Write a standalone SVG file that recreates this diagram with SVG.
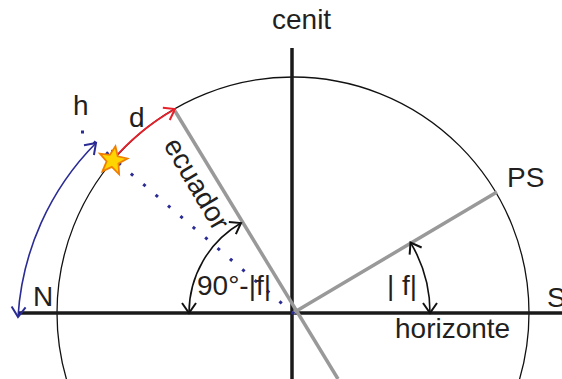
<svg xmlns="http://www.w3.org/2000/svg" width="562" height="379" viewBox="0 0 562 379">
<style>
text{font-family:"Liberation Sans",Arial,sans-serif;fill:#231f20;font-size:28px}
.axis{stroke:#1a1a1a;stroke-width:3.5;fill:none}
.gray{stroke:#999;stroke-width:3.5;fill:none}
.circ{stroke:#111;stroke-width:1.3;fill:none}
.blk{stroke:#111;stroke-width:1.6;fill:none}
.red{stroke:#e8202a;stroke-width:2;fill:none}
.blue{stroke:#2b2b96;stroke-width:1.6;fill:none}
.dots{stroke:#2b2b96;stroke-width:3;stroke-linecap:square;fill:none}
</style>
<defs>
<marker id="ak" markerUnits="userSpaceOnUse" markerWidth="30" markerHeight="30" refX="0" refY="0" viewBox="-15 -15 30 30" orient="auto-start-reverse" overflow="visible"><path d="M-10,-7 L0,0 L-10,7" fill="none" stroke="#111" stroke-width="2"/></marker>
<marker id="ar" markerUnits="userSpaceOnUse" markerWidth="30" markerHeight="30" refX="0" refY="0" viewBox="-15 -15 30 30" orient="auto-start-reverse" overflow="visible"><path d="M-10,-7 L0,0 L-10,7" fill="none" stroke="#e8202a" stroke-width="2"/></marker>
<marker id="ab" markerUnits="userSpaceOnUse" markerWidth="30" markerHeight="30" refX="0" refY="0" viewBox="-15 -15 30 30" orient="auto-start-reverse" overflow="visible"><path d="M-10,-7 L0,0 L-10,7" fill="none" stroke="#2b2b96" stroke-width="2"/></marker>
</defs>
<g id="sphere"><circle class="circ" cx="293" cy="313" r="236"/></g>
<g id="connectors">
<line class="axis" x1="18" y1="313" x2="562" y2="313"/>
<line class="axis" x1="292" y1="48" x2="292" y2="379"/>
<line class="gray" x1="175" y1="111" x2="338" y2="379"/>
<line class="gray" x1="293" y1="313" x2="497" y2="192"/>
<line class="dots" x1="293" y1="313" x2="82.5" y2="132" pathLength="17" stroke-dasharray="0.001 0.999"/>
<path class="blue" d="M18,317 A270,270 0 0 1 96,143" marker-start="url(#ab)" marker-end="url(#ab)"/>
<path class="red" d="M111,162 A236,236 0 0 1 175,109" marker-start="url(#ar)" marker-end="url(#ar)"/>
<path class="blk" d="M189,313 A104,104 0 0 1 241,223" marker-start="url(#ak)" marker-end="url(#ak)"/>
<path class="blk" d="M430,313 A137,137 0 0 0 410.5,242.5" marker-start="url(#ak)" marker-end="url(#ak)"/>
</g>
<g id="star"><polygon points="113,146 117,155.5 127,156 119,162.5 121.5,173 113,167 104.5,173 107,162.5 99,156 109,155.5" fill="#ffd400" stroke="#f07f00" stroke-width="1.8" transform="rotate(10 113 160)"/></g>
<g id="labels">
<text x="272" y="29" font-size="29">cenit</text>
<text x="507" y="187">PS</text>
<text x="547" y="307">S</text>
<text x="33" y="306">N</text>
<text x="395" y="338" font-size="29">horizonte</text>
<text x="73" y="115">h</text>
<text x="129" y="127" font-size="23">d</text>
<text x="197" y="295" font-size="26">90°-|f|</text>
<text x="387" y="295" font-size="26">| f|</text>
<text transform="translate(163 145) rotate(59.5)">ecuador</text>
</g>
</svg>
